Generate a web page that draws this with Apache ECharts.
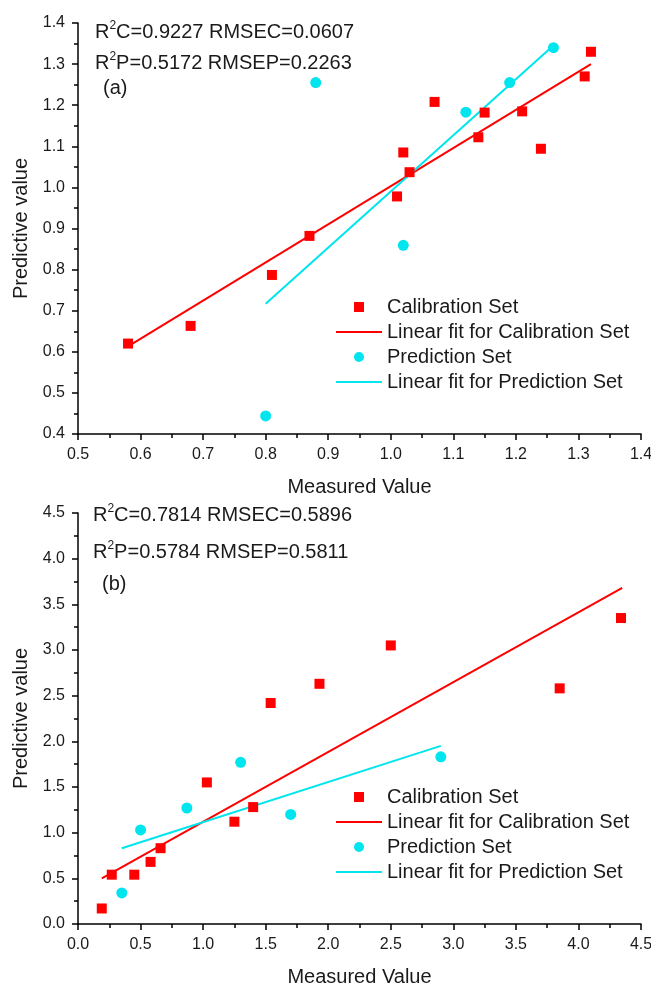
<!DOCTYPE html>
<html>
<head>
<meta charset="utf-8">
<script src="https://cdn.jsdelivr.net/npm/echarts@6/dist/echarts.min.js"></script>
<style>html,body{margin:0;padding:0;background:#fff}#c{width:651px;height:988px}</style>
</head>
<body>
<div id="c"></div>
<script>
// ---- Panel (a) data ----
const aCalX = [0.58, 0.68, 0.81, 0.87, 1.01, 1.02, 1.03, 1.07, 1.14, 1.15, 1.21, 1.24, 1.31, 1.32];
const aCalY = [0.62, 0.663, 0.787, 0.882, 0.978, 1.085, 1.037, 1.208, 1.122, 1.182, 1.185, 1.094, 1.27, 1.33];
const aPredX = [0.80, 0.88, 1.02, 1.12, 1.19, 1.26];
const aPredY = [0.444, 1.255, 0.859, 1.183, 1.255, 1.34];
const aFitCalX = [0.58, 1.32];
const aFitCalY = [0.613, 1.30];
const aFitPredX = [0.80, 1.26];
const aFitPredY = [0.717, 1.345];
// ---- Panel (b) data ----
const bCalX = [0.19, 0.27, 0.45, 0.58, 0.66, 1.03, 1.25, 1.40, 1.54, 1.93, 2.50, 3.85, 4.34];
const bCalY = [0.17, 0.54, 0.54, 0.68, 0.83, 1.55, 1.12, 1.28, 2.42, 2.63, 3.05, 2.58, 3.35];
const bPredX = [0.35, 0.50, 0.87, 1.30, 1.70, 2.90];
const bPredY = [0.34, 1.03, 1.27, 1.77, 1.20, 1.83];
const bFitCalX = [0.19, 4.35];
const bFitCalY = [0.50, 3.68];
const bFitPredX = [0.35, 2.90];
const bFitPredY = [0.83, 1.95];
// ---- texts ----
const seriesNames = ['Calibration Set', 'Linear fit for Calibration Set', 'Prediction Set', 'Linear fit for Prediction Set'];
const statsA = ['C=0.9227 RMSEC=0.0607', 'P=0.5172 RMSEP=0.2263'];
const statsB = ['C=0.7814 RMSEC=0.5896', 'P=0.5784 RMSEP=0.5811'];
const panelLabels = ['(a)', '(b)'];
const xTitle = 'Measured Value';
const yTitle = 'Predictive value';

const FONT = 'Liberation Sans, Arial, sans-serif';
const TXT = '#1a1a1a';
const RED = '#ff0000';
const CYAN = '#00e5ee';

const zip = (xs, ys) => xs.map((x, i) => [x, ys[i]]);

function makeAxis(gridIndex, min, max, interval, isY) {
  return {
    type: 'value', gridIndex, min, max, interval,
    name: isY ? yTitle : xTitle,
    nameLocation: 'middle',
    nameGap: isY ? 47 : 43,
    nameTextStyle: { fontSize: 20, fontFamily: FONT, color: TXT },
    axisLine: { show: true, onZero: false, lineStyle: { color: '#000', width: 1.5 } },
    axisTick: { show: true, inside: false, length: 6, lineStyle: { color: '#000', width: 1.5 } },
    minorTick: { show: true, splitNumber: 2, length: 4, lineStyle: { color: '#000', width: 1.5 } },
    splitLine: { show: false },
    minorSplitLine: { show: false },
    axisLabel: {
      fontSize: 16, fontFamily: FONT, color: TXT, margin: 13,
      showMinLabel: true, showMaxLabel: true,
      formatter: v => v.toFixed(1)
    }
  };
}

const richStyle = {
  r: { fontSize: 20, fontFamily: FONT, color: TXT, fontWeight: 'normal', lineHeight: 24 },
  s: { fontSize: 12, fontFamily: FONT, color: TXT, fontWeight: 'normal', lineHeight: 16, verticalAlign: 'top' }
};
function statTitle(str, left, top) {
  return { text: '{r|R}{s|2}{r|' + str + '}', left, top, padding: 0,
    textStyle: { fontWeight: 'normal', rich: richStyle } };
}
function plainTitle(str, left, top) {
  return { text: str, left, top, padding: 0,
    textStyle: { fontSize: 20, fontFamily: FONT, color: TXT, fontWeight: 'normal', lineHeight: 24 } };
}

const squareIcon = 'path://M0,5L0.01,5M18,0L28,0L28,10L18,10ZM46,5L45.99,5';
const lineIcon = 'path://M0,4L46,4L46,6L0,6Z';

function legendFor(top) {
  return {
    orient: 'vertical', left: 336, top, padding: 0,
    itemWidth: 46, itemHeight: 10, itemGap: 5,
    selectedMode: false,
    textStyle: { fontSize: 20, fontFamily: FONT, color: TXT, lineHeight: 20 },
    data: [
      { name: seriesNames[0], icon: squareIcon },
      { name: seriesNames[1], icon: lineIcon },
      { name: seriesNames[2], icon: 'circle' },
      { name: seriesNames[3], icon: lineIcon }
    ]
  };
}

function panelSeries(idx, calX, calY, predX, predY, fcX, fcY, fpX, fpY) {
  return [
    { name: seriesNames[0], type: 'scatter', xAxisIndex: idx, yAxisIndex: idx, symbol: 'rect', symbolSize: 10,
      itemStyle: { color: RED, opacity: 1 }, data: zip(calX, calY), z: 3 },
    { name: seriesNames[1], type: 'line', xAxisIndex: idx, yAxisIndex: idx, symbol: 'none', showSymbol: false,
      lineStyle: { color: RED, width: 2 }, itemStyle: { color: RED }, data: zip(fcX, fcY), z: 2 },
    { name: seriesNames[2], type: 'scatter', xAxisIndex: idx, yAxisIndex: idx, symbol: 'circle', symbolSize: 11,
      itemStyle: { color: CYAN, opacity: 1 }, data: zip(predX, predY), z: 3 },
    { name: seriesNames[3], type: 'line', xAxisIndex: idx, yAxisIndex: idx, symbol: 'none', showSymbol: false,
      lineStyle: { color: CYAN, width: 2 }, itemStyle: { color: CYAN }, data: zip(fpX, fpY), z: 2 }
  ];
}

const chart = echarts.init(document.getElementById('c'), null, { renderer: 'canvas' });
chart.setOption({
  backgroundColor: '#fff',
  animation: false,
  title: [
    statTitle(statsA[0], 95, 20),
    statTitle(statsA[1], 95, 51),
    plainTitle(panelLabels[0], 103, 76),
    statTitle(statsB[0], 93, 503),
    statTitle(statsB[1], 93, 540),
    plainTitle(panelLabels[1], 102, 572)
  ],
  legend: [legendFor(297), legendFor(787)],
  grid: [
    { left: 78, top: 23, width: 563, height: 411, outerBoundsMode: 'none', containLabel: false },
    { left: 78, top: 513, width: 563, height: 411, outerBoundsMode: 'none', containLabel: false }
  ],
  xAxis: [makeAxis(0, 0.5, 1.4, 0.1, false), makeAxis(1, 0, 4.5, 0.5, false)],
  yAxis: [makeAxis(0, 0.4, 1.4, 0.1, true), makeAxis(1, 0, 4.5, 0.5, true)],
  series: [
    ...panelSeries(0, aCalX, aCalY, aPredX, aPredY, aFitCalX, aFitCalY, aFitPredX, aFitPredY),
    ...panelSeries(1, bCalX, bCalY, bPredX, bPredY, bFitCalX, bFitCalY, bFitPredX, bFitPredY)
  ]
});
</script>
</body>
</html>
